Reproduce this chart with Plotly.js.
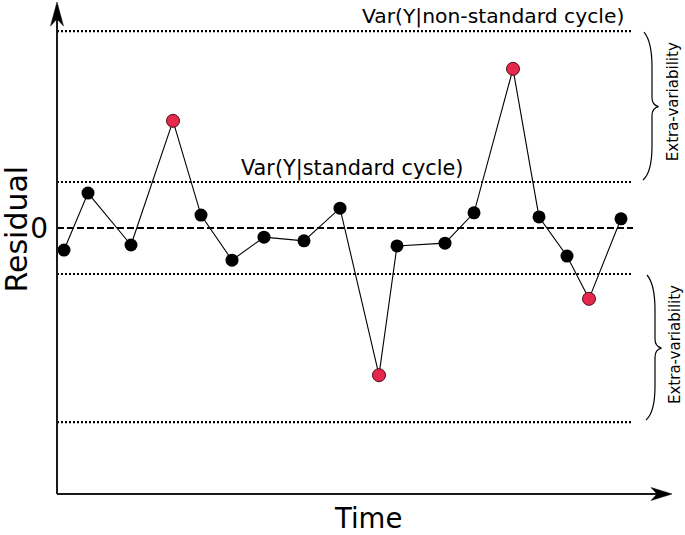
<!DOCTYPE html>
<html>
<head>
<meta charset="utf-8">
<script src="https://cdn.plot.ly/plotly-3.0.1.min.js"></script>
<style>html,body{margin:0;padding:0;background:#fff;}#chart{width:685px;height:535px;}</style>
</head>
<body>
<div id="chart"></div>
<script>
// ---- data ----
const times = [0.7, 3.1, 7.4, 11.6, 14.4, 17.5, 20.7, 24.7, 28.3, 32.2, 34.0, 38.8, 41.7, 45.6, 48.2, 51.0, 53.2, 56.4];
const residuals = [-0.48, 0.76, -0.37, 2.33, 0.28, -0.70, -0.20, -0.28, 0.43, -3.20, -0.39, -0.33, 0.33, 3.46, 0.24, -0.61, -1.54, 0.20];
const isExtra = [0, 0, 0, 1, 0, 0, 0, 0, 0, 1, 0, 0, 0, 1, 0, 0, 1, 0];
const standardBand = [-1, 1];
const nonStandardBand = [-4.22, 4.28];
const bandLabels = ["Var(Y|standard cycle)", "Var(Y|non-standard cycle)"];
const braceLabel = "Extra-variability";
const tickVals = [0];
const tickText = ["0"];
const lineEnd = 57.6;

const xRange = [0, 61.5];
const yRange = [-5.783, 4.913];
const FONT = "DejaVu Sans, Verdana, sans-serif";

const red = "#e6284c";
const markerColors = isExtra.map(v => v ? red : "#000000");
const markerLineColors = isExtra.map(v => v ? "#4a0f18" : "#000000");
const markerLineWidths = isExtra.map(v => v ? 1 : 0);

const traces = [{
  x: times, y: residuals, type: "scatter", mode: "lines+markers",
  line: {color: "#000", width: 1.1},
  marker: {size: 13, color: markerColors, line: {color: markerLineColors, width: markerLineWidths}},
  hoverinfo: "x+y", showlegend: false
}];

const shapes = [];
// horizontal reference lines
[...standardBand, ...nonStandardBand].forEach(v => {
  shapes.push({type: "line", xref: "x", yref: "y", x0: 0, x1: lineEnd, y0: v, y1: v,
    line: {color: "#000", width: 2.2, dash: "2px,2px"}});
});
shapes.push({type: "line", xref: "x", yref: "y", x0: 0, x1: lineEnd, y0: 0, y1: 0,
  line: {color: "#000", width: 2, dash: "7px,3px"}});

// curly braces between the band levels
function brace(yTop, yBot, xb) {
  const py = 1 / 46; // one pixel in y units
  const ym = (yTop + yBot) / 2;
  const b = xb + 0.8, t = xb + 1.45;
  return `M ${xb},${yTop - 1*py} C ${xb + 0.6},${yTop - 8*py} ${b},${yTop - 20*py} ${b},${yTop - 36*py}` +
    ` L ${b},${ym + 9*py} Q ${b},${ym + 1.5*py} ${t},${ym} Q ${b},${ym - 1.5*py} ${b},${ym - 9*py}` +
    ` L ${b},${yBot + 36*py} C ${b},${yBot + 20*py} ${xb + 0.6},${yBot + 8*py} ${xb - 0.1},${yBot + 2*py}`;
}
shapes.push({type: "path", xref: "x", yref: "y", path: brace(nonStandardBand[1], standardBand[1], 58.7),
  line: {color: "#000", width: 1.2}});
shapes.push({type: "path", xref: "x", yref: "y", path: brace(standardBand[0], nonStandardBand[0], 59.0),
  line: {color: "#000", width: 1.2}});

// axes with arrows
const axCol = "#1a1a1a";
shapes.push({type: "line", xref: "paper", yref: "paper", x0: 0, x1: 0, y0: 0, y1: 0.97, line: {color: axCol, width: 2}});
shapes.push({type: "line", xref: "paper", yref: "paper", x0: 0, x1: 0.98, y0: 0, y1: 0, line: {color: axCol, width: 2}});
shapes.push({type: "path", xref: "paper", yref: "paper", xsizemode: "pixel", ysizemode: "pixel",
  xanchor: 0, yanchor: 1, path: "M 0,0 L -6.5,-24 L 0,-17 L 6.5,-24 Z",
  fillcolor: "#000", line: {color: "#000", width: 0.5}});
shapes.push({type: "path", xref: "paper", yref: "paper", xsizemode: "pixel", ysizemode: "pixel",
  xanchor: 1, yanchor: 0, path: "M 0,0 L -21,6.5 L -15,0 L -21,-6.5 Z",
  fillcolor: "#000", line: {color: "#000", width: 0.5}});

const C = {xanchor: "center", yanchor: "middle", showarrow: false};
const annotations = [
  Object.assign({xref: "x", yref: "y", x: 43.6, y: 4.61, text: bandLabels[1],
   font: {family: FONT, size: 20.3, color: "#000"}}, C),
  Object.assign({xref: "x", yref: "y", x: 29.5, y: 1.30, text: bandLabels[0],
   font: {family: FONT, size: 20.8, color: "#000"}}, C),
  Object.assign({xref: "paper", yref: "paper", x: 1.003, y: 0.798, text: braceLabel, textangle: -90,
   font: {family: FONT, size: 15, color: "#000"}}, C),
  Object.assign({xref: "paper", yref: "paper", x: 1.005, y: 0.303, text: braceLabel, textangle: -90,
   font: {family: FONT, size: 15, color: "#000"}}, C),
  Object.assign({xref: "paper", yref: "paper", x: -0.0655, y: 0.539, text: "Residual", textangle: -90,
   font: {family: FONT, size: 30, color: "#000"}}, C),
  Object.assign({xref: "paper", yref: "paper", x: 0.505, y: -0.049, text: "Time",
   font: {family: FONT, size: 27.5, color: "#000"}}, C)
];

const layout = {
  width: 685, height: 535,
  margin: {l: 57, r: 13, t: 2, b: 41},
  paper_bgcolor: "#fff", plot_bgcolor: "#fff",
  showlegend: false,
  xaxis: {range: xRange, visible: false, fixedrange: true},
  yaxis: {range: yRange, showgrid: false, zeroline: false, showline: false, ticks: "",
    tickvals: tickVals, ticktext: tickText, ticklabelstandoff: 8,
    tickfont: {family: FONT, size: 28, color: "#000"}, fixedrange: true},
  shapes: shapes,
  annotations: annotations
};

Plotly.newPlot("chart", traces, layout, {displayModeBar: false, staticPlot: true});
</script>
</body>
</html>
